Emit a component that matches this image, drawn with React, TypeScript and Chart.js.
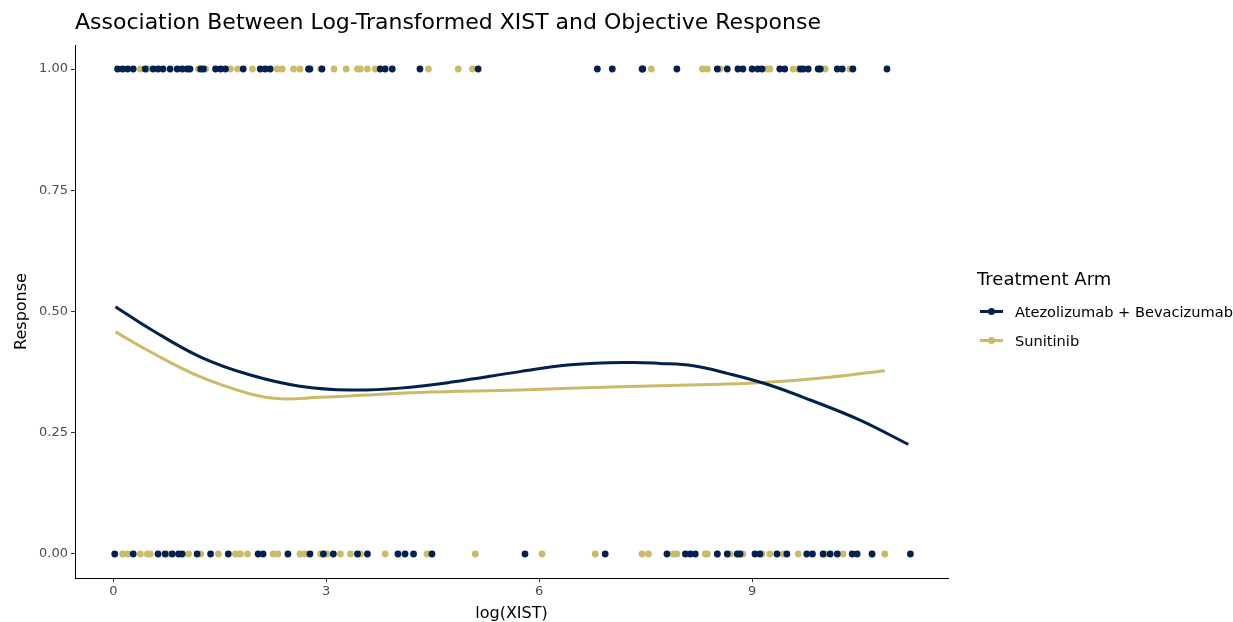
import React, { useEffect, useRef } from "react";
import { Chart, registerables } from "chart.js";
Chart.register(...registerables);

const NAVY = "#02214F";
const GOLD = "#CCBA68";

const xTicks = [0, 3, 6, 9];
const yTicks = [0, 0.25, 0.5, 0.75, 1.0];

// Atezolizumab + Bevacizumab, responders (Response = 1)
const atezoResp1X = [0.06, 0.13, 0.2, 0.28, 0.45, 0.56, 0.63, 0.7, 0.8, 0.9, 0.97, 1.04, 1.08, 1.23, 1.27, 1.44, 1.51, 1.58, 1.83, 2.07, 2.14, 2.21, 2.75, 2.77, 2.94, 3.76, 3.83, 3.93, 4.32, 5.14, 6.82, 7.03, 7.45, 7.46, 7.94, 8.51, 8.65, 8.8, 8.87, 9.0, 9.08, 9.14, 9.39, 9.46, 9.68, 9.72, 9.79, 9.93, 9.96, 10.2, 10.27, 10.42, 10.9];
// Atezolizumab + Bevacizumab, non-responders (Response = 0)
const atezoResp0X = [0.02, 0.28, 0.63, 0.73, 0.83, 0.92, 0.97, 1.18, 1.37, 1.62, 2.04, 2.11, 2.46, 2.77, 2.96, 3.1, 3.44, 3.58, 4.01, 4.11, 4.23, 4.49, 5.8, 6.93, 7.8, 8.06, 8.13, 8.2, 8.51, 8.65, 8.79, 8.83, 9.04, 9.11, 9.35, 9.49, 9.77, 9.85, 10.0, 10.1, 10.2, 10.41, 10.48, 10.69, 11.23];
// Sunitinib, responders
const suniResp1X = [0.38, 0.48, 1.2, 1.3, 1.65, 1.75, 1.96, 2.31, 2.38, 2.54, 2.63, 2.92, 3.11, 3.28, 3.44, 3.48, 3.58, 3.69, 4.44, 4.86, 5.06, 7.58, 8.3, 8.37, 8.55, 9.21, 9.25, 9.58, 9.65, 10.03, 10.38];
// Sunitinib, non-responders
const suniResp0X = [0.13, 0.2, 0.38, 0.48, 0.52, 0.77, 1.06, 1.23, 1.48, 1.72, 1.79, 1.89, 2.25, 2.32, 2.63, 2.7, 2.92, 3.01, 3.2, 3.34, 3.48, 3.83, 4.42, 5.1, 6.04, 6.79, 7.45, 7.54, 7.89, 7.94, 8.34, 8.37, 8.51, 8.69, 8.87, 9.14, 9.25, 9.44, 9.65, 10.03, 10.28, 10.69, 10.87];

// Smoothed fit curves
const atezoCurveX = [0.03, 0.52, 1.23, 1.93, 2.63, 3.34, 4.04, 4.8, 5.73, 6.44, 7.28, 7.7, 8.17, 8.65, 9.21, 9.82, 10.52, 11.2];
const atezoCurveY = [0.51, 0.464, 0.406, 0.369, 0.346, 0.338, 0.342, 0.355, 0.376, 0.39, 0.395, 0.393, 0.388, 0.3725, 0.35, 0.3175, 0.276, 0.226];
const suniCurveX = [0.03, 0.52, 1.23, 1.93, 2.35, 2.9, 3.34, 4.32, 5.73, 7.14, 8.55, 9.21, 10.06, 10.87];
const suniCurveY = [0.458, 0.417, 0.365, 0.33, 0.32, 0.323, 0.326, 0.333, 0.338, 0.345, 0.35, 0.354, 0.364, 0.378];

const FONT = "'DejaVu Sans', sans-serif";

export default function App() {
  const ref = useRef<HTMLCanvasElement>(null);
  useEffect(() => {
    document.body.style.margin = "0";
    const pts = (xs: number[], y: number) => xs.map((x) => ({ x, y }));
    const curve = (xs: number[], ys: number[]) => xs.map((x, i) => ({ x, y: ys[i] }));
    const chart = new Chart(ref.current!, {
      type: "scatter",
      data: {
        datasets: [
          { label: "a1", data: pts(atezoResp1X, 1), backgroundColor: NAVY, pointRadius: 3.4, borderWidth: 0 },
          { label: "a0", data: pts(atezoResp0X, 0), backgroundColor: NAVY, pointRadius: 3.4, borderWidth: 0 },
          { label: "s1", data: pts(suniResp1X, 1), backgroundColor: GOLD, pointRadius: 3.4, borderWidth: 0 },
          { label: "s0", data: pts(suniResp0X, 0), backgroundColor: GOLD, pointRadius: 3.4, borderWidth: 0 },
          { label: "Atezolizumab + Bevacizumab", data: curve(atezoCurveX, atezoCurveY), showLine: true, borderColor: NAVY, borderWidth: 3, pointRadius: 0, tension: 0.4 } as any,
          { label: "Sunitinib", data: curve(suniCurveX, suniCurveY), showLine: true, borderColor: GOLD, borderWidth: 3, pointRadius: 0, tension: 0.4 } as any,
        ],
      },
      options: {
        animation: false,
        responsive: false,
        devicePixelRatio: 1,
        layout: { padding: { left: 0, right: 285, top: 0, bottom: 0 } },
        plugins: {
          legend: { display: false },
          tooltip: { enabled: false },
          title: {
            display: true,
            text: "Association Between Log-Transformed XIST and Objective Response",
            align: "start",
            fullSize: false,
            color: "#000",
            font: { family: FONT, size: 22, weight: "normal" },
            padding: { top: 10.5, bottom: 8.1 },
          },
        },
        scales: {
          x: {
            type: "linear",
            min: -0.54,
            max: 11.76,
            afterBuildTicks: (s: any) => { s.ticks = xTicks.map((v) => ({ value: v })); },
            afterFit: (s: any) => { s.height = 44; },
            ticks: { color: "#4D4D4D", font: { family: FONT, size: 13 }, padding: 2, callback: (v: any) => String(v) },
            grid: { drawOnChartArea: false, drawTicks: true, tickLength: 4, color: "#333" },
            border: { display: true, color: "#000", width: 1 },
            title: { display: true, text: "log(XIST)", color: "#000", font: { family: FONT, size: 16 }, padding: { top: 0, bottom: -1 } },
          },
          y: {
            type: "linear",
            min: -0.0495,
            max: 1.0495,
            afterBuildTicks: (s: any) => { s.ticks = yTicks.map((v) => ({ value: v })); },
            afterFit: (s: any) => { s.width = 75; },
            ticks: { color: "#4D4D4D", font: { family: FONT, size: 13 }, padding: 3, callback: (v: any) => Number(v).toFixed(2) },
            grid: { drawOnChartArea: false, drawTicks: true, tickLength: 4, color: "#333" },
            border: { display: true, color: "#000", width: 1 },
            title: { display: true, text: "Response", color: "#000", font: { family: FONT, size: 16 }, padding: { top: 12, bottom: 0 } },
          },
        },
      },
    });
    return () => chart.destroy();
  }, []);

  const item = (color: string, label: string, top: number) => (
    <div style={{ position: "absolute", left: 980, top: top - 10, height: 20, display: "flex", alignItems: "center" }}>
      <div style={{ position: "relative", width: 23, height: 20 }}>
        <div style={{ position: "absolute", left: 0, top: 8.5, width: 23, height: 3, background: color }} />
        <div style={{ position: "absolute", left: 8, top: 6.5, width: 7, height: 7, borderRadius: "50%", background: color }} />
      </div>
      <span style={{ marginLeft: 12, fontFamily: FONT, fontSize: 14.6, color: "#000", whiteSpace: "nowrap" }}>{label}</span>
    </div>
  );

  return (
    <div style={{ position: "absolute", left: 0, top: 0, width: 1233, height: 622, background: "#fff", overflow: "hidden" }}>
      <canvas ref={ref} width={1233} height={622} style={{ display: "block" }} />
      <div style={{ position: "absolute", left: 977, top: 268, fontFamily: FONT, fontSize: 18, color: "#000", lineHeight: "22px", whiteSpace: "nowrap" }}>Treatment Arm</div>
      {item(NAVY, "Atezolizumab + Bevacizumab", 311)}
      {item(GOLD, "Sunitinib", 340)}
    </div>
  );
}
